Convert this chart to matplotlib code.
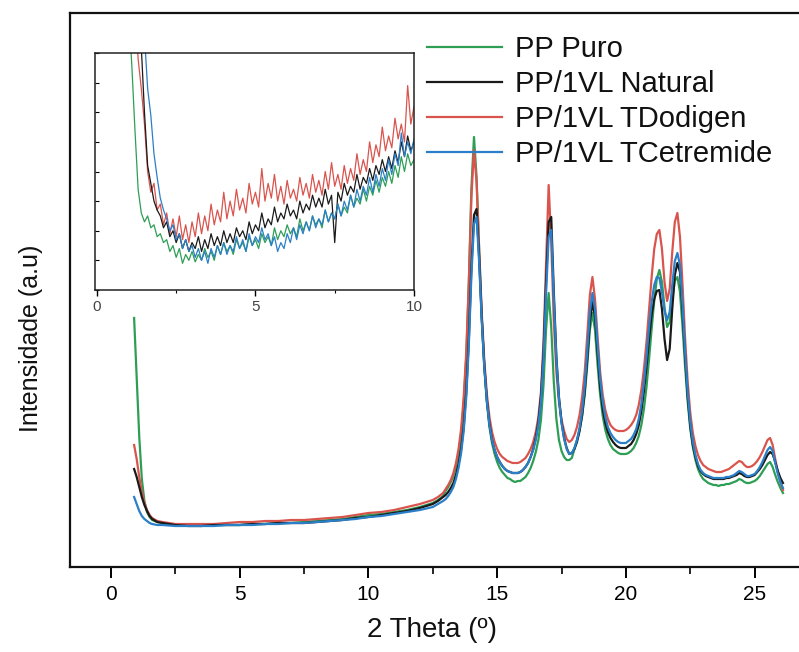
import matplotlib
matplotlib.use('Agg')
import matplotlib.pyplot as plt
from matplotlib import font_manager
from matplotlib.ticker import MultipleLocator

# ---------------- data ----------------
labels = ['PP Puro', 'PP/1VL Natural', 'PP/1VL TDodigen', 'PP/1VL TCetremide']
colors = ['#2e9e55', '#1a1a1a', '#d9544d', '#2a7fc8']

two_theta = [0.9, 1.0, 1.1, 1.2, 1.3, 1.4, 1.5, 1.6, 1.8, 2.0, 2.5, 3.0, 3.5, 4.0, 4.5,
             5.0, 5.5, 6.0, 6.5, 7.0, 7.5, 8.0, 8.5, 9.0, 9.5, 10.0, 10.5, 11.0, 11.5,
             12.0, 12.5, 12.7, 12.9,
             13.0, 13.1, 13.2, 13.3, 13.4, 13.5, 13.6, 13.7, 13.8, 13.9,
             14.0, 14.1, 14.2, 14.3, 14.4, 14.5, 14.6, 14.7, 14.8, 14.9,
             15.0, 15.1, 15.2, 15.3, 15.4, 15.5, 15.6, 15.7, 15.8, 15.9,
             16.0, 16.1, 16.2, 16.3, 16.4, 16.5, 16.6, 16.7, 16.8, 16.9,
             17.0, 17.1, 17.2, 17.3, 17.4, 17.5, 17.6, 17.7, 17.8, 17.9,
             18.0, 18.1, 18.2, 18.3, 18.4, 18.5, 18.6, 18.7, 18.8, 18.9,
             19.0, 19.1, 19.2, 19.3, 19.4, 19.5, 19.6, 19.7, 19.8, 19.9,
             20.0, 20.1, 20.2, 20.3, 20.4, 20.5, 20.6, 20.7, 20.8, 20.9,
             21.0, 21.1, 21.2, 21.3, 21.4, 21.5, 21.6, 21.7, 21.8, 21.9,
             22.0, 22.1, 22.2, 22.3, 22.4, 22.5, 22.6, 22.7, 22.8, 22.9,
             23.0, 23.1, 23.2, 23.3, 23.4, 23.5, 23.6, 23.7, 23.8, 23.9,
             24.0, 24.1, 24.2, 24.3, 24.4, 24.5, 24.6, 24.7, 24.8, 24.9,
             25.0, 25.1, 25.2, 25.3, 25.4, 25.5, 25.6, 25.7, 25.8, 25.9,
             26.0, 26.1]

pp_puro = [249, 190, 130, 88, 66, 55, 50, 47, 45, 44, 42, 42, 41, 42, 42,
           42, 43, 43, 44, 44, 45, 46, 47, 48, 50, 52, 53, 55, 57,
           60, 64, 67, 71,
           76, 80, 85, 91, 100, 113, 132, 163, 210, 285,
           379, 430, 390, 318, 250, 200, 165, 140, 124, 113,
           105, 99, 95, 92, 89, 88, 86, 85, 86, 86,
           88, 90, 94, 99, 106, 115, 127, 147, 182, 238,
           274, 240, 185, 148, 127, 116, 110, 107, 107, 109,
           118, 127, 137, 151, 172, 202, 237, 254, 237, 202,
           172, 151, 137, 128, 122, 118, 116, 114, 113, 113,
           113, 114, 116, 119, 124, 131, 142, 158, 180, 208,
           238, 266, 288, 297, 285, 260, 240, 245, 268, 286,
           290, 275, 240, 200, 165, 138, 120, 107, 98, 92,
           88, 86, 84, 83, 82, 82, 81, 82, 82, 83,
           83, 84, 85, 86, 88, 87, 85, 84, 84, 85,
           86, 88, 91, 95, 99, 103, 105, 100, 92, 85,
           79, 74]

pp_natural = [98, 90, 80, 70, 62, 56, 51, 48, 45, 44, 42, 41, 41, 42, 42,
              42, 43, 43, 44, 44, 44, 45, 46, 47, 49, 50, 52, 54, 56,
              59, 63, 66, 70,
              72, 75, 79, 84, 92, 103, 118, 140, 175, 228,
              300, 352, 358, 310, 250, 202, 167, 143, 127, 117,
              110, 105, 101, 98, 96, 95, 94, 94, 94, 95,
              97, 100, 104, 110, 118, 129, 145, 170, 215, 285,
              345, 350, 275, 210, 170, 145, 129, 119, 113, 114,
              118, 125, 136, 152, 175, 208, 245, 265, 250, 214,
              180, 158, 144, 135, 129, 125, 122, 120, 119, 119,
              119, 121, 123, 127, 133, 142, 156, 176, 200, 228,
              252, 268, 276, 277, 258, 228, 207, 218, 258, 292,
              304, 295, 255, 210, 170, 141, 122, 110, 101, 96,
              93, 91, 90, 89, 88, 88, 88, 88, 88, 89,
              89, 90, 91, 92, 94, 93, 91, 90, 90, 91,
              92, 95, 98, 102, 107, 112, 115, 113, 105, 96,
              89, 84]

pp_dodigen = [122, 108, 90, 75, 64, 57, 52, 49, 46, 45, 43, 43, 43, 43, 44,
              45, 45, 46, 46, 47, 47, 48, 49, 50, 52, 54, 55, 57, 60,
              63, 67, 70, 74,
              78, 82, 87, 94, 104, 118, 138, 170, 215, 285,
              370, 417, 385, 318, 255, 207, 173, 150, 135, 125,
              118, 113, 110, 108, 106, 105, 104, 104, 104, 105,
              107, 109, 113, 118, 125, 135, 150, 175, 225, 305,
              382, 325, 245, 195, 165, 147, 136, 128, 125, 127,
              132, 140, 152, 170, 195, 232, 272, 290, 268, 230,
              195, 172, 157, 148, 142, 139, 137, 136, 136, 136,
              137, 139, 142, 146, 152, 162, 177, 198, 225, 258,
              290, 318, 333, 337, 318, 285, 266, 278, 315, 345,
              354, 330, 282, 228, 185, 154, 134, 121, 112, 106,
              102, 100, 98, 97, 96, 95, 95, 95, 96, 97,
              98, 100, 102, 104, 106, 105, 102, 100, 100, 101,
              103, 106, 110, 115, 121, 127, 129, 122, 108, 95,
              85, 77]

pp_cetremide = [70, 63, 56, 51, 48, 46, 44, 43, 42, 42, 41, 41, 41, 41, 42,
                42, 42, 43, 43, 44, 44, 45, 46, 47, 48, 50, 51, 53, 55,
                57, 60, 63, 66,
                68, 71, 75, 80, 88, 99, 114, 136, 170, 222,
                292, 343, 350, 305, 247, 200, 166, 142, 127, 117,
                110, 105, 101, 98, 96, 95, 94, 94, 94, 95,
                97, 100, 104, 110, 117, 127, 142, 165, 208, 274,
                330, 337, 268, 207, 168, 144, 128, 118, 113, 114,
                119, 127, 139, 156, 181, 216, 255, 274, 258, 222,
                188, 165, 150, 140, 134, 130, 127, 125, 124, 124,
                124, 126, 128, 132, 138, 148, 163, 184, 210, 240,
                265, 282, 290, 289, 275, 256, 247, 255, 282, 306,
                314, 302, 262, 215, 175, 145, 125, 112, 103, 97,
                94, 92, 91, 90, 89, 89, 89, 89, 89, 90,
                90, 91, 92, 94, 96, 95, 93, 91, 91, 92,
                93, 96, 100, 105, 111, 117, 120, 116, 104, 93,
                85, 79]

# inset (low-angle region, enlarged intensity scale)
inset_theta = [1.0, 1.1, 1.2, 1.3, 1.4, 1.5, 1.6, 1.7, 1.8, 1.9,
               2.0, 2.1, 2.2, 2.3, 2.4, 2.5, 2.6, 2.7, 2.8, 2.9,
               3.0, 3.1, 3.2, 3.3, 3.4, 3.5, 3.6, 3.7, 3.8, 3.9,
               4.0, 4.1, 4.2, 4.3, 4.4, 4.5, 4.6, 4.7, 4.8, 4.9,
               5.0, 5.1, 5.2, 5.3, 5.4, 5.5, 5.6, 5.7, 5.8, 5.9,
               6.0, 6.1, 6.2, 6.3, 6.4, 6.5, 6.6, 6.7, 6.8, 6.9,
               7.0, 7.1, 7.2, 7.3, 7.4, 7.5, 7.6, 7.7, 7.8, 7.9,
               8.0, 8.1, 8.2, 8.3, 8.4, 8.5, 8.6, 8.7, 8.8, 8.9,
               9.0, 9.1, 9.2, 9.3, 9.4, 9.5, 9.6, 9.7, 9.8, 9.9,
               10.0]

inset_puro = [9.5, 7.6, 5.4, 3.4, 2.6, 2.3, 2.5, 2.1, 2.2, 1.8,
              1.9, 1.6, 1.7, 1.3, 1.5, 1.1, 1.4, 0.9, 1.2, 1.0,
              1.3, 0.95, 1.2, 1.0, 1.4, 1.1, 1.3, 1.0, 1.5, 1.2,
              1.6, 1.3, 1.5, 1.2, 1.7, 1.4, 1.6, 1.3, 1.8, 1.5,
              1.7, 1.4, 1.9, 1.6, 1.8, 1.5, 2.1, 1.7, 2.0, 1.8,
              2.2, 1.9, 2.1, 1.8, 2.4, 2.0, 2.3, 2.0, 2.5, 2.2,
              2.4, 2.1, 2.7, 2.3, 2.6, 2.4, 2.9, 2.5, 2.8, 2.6,
              3.2, 2.8, 3.1, 2.9, 3.4, 3.0, 3.5, 3.2, 3.7, 3.3,
              3.8, 3.5, 4.0, 3.6, 4.2, 3.8, 4.5, 4.0, 4.6, 4.2,
              4.4]

inset_dodigen = [12, 11, 9.5, 7.8, 6.8, 5.6, 4.0, 3.3, 3.6, 2.7,
                 2.9, 2.2, 2.6, 1.9, 2.4, 1.8, 2.5, 1.7, 2.2, 1.6,
                 2.3, 1.8, 2.6, 1.9, 2.5, 2.0, 2.9, 2.2, 2.7, 2.3,
                 3.3, 2.4, 3.0, 2.5, 3.4, 2.7, 3.1, 2.6, 3.6, 2.9,
                 3.3, 2.8, 4.1, 3.0, 3.6, 3.1, 3.9, 3.0, 3.5, 2.9,
                 3.7, 3.1, 3.4, 3.0, 3.8, 3.2, 3.6, 3.1, 3.9, 3.3,
                 3.7, 3.2, 4.0, 3.4, 4.3, 3.5, 3.9, 3.4, 4.2, 3.6,
                 4.1, 3.7, 4.6, 3.9, 4.4, 4.0, 5.0, 4.3, 4.9, 4.5,
                 5.5, 4.7, 5.2, 4.8, 5.8, 5.1, 5.6, 5.0, 6.9, 5.6,
                 6.2]

inset_natural = [13, 12, 11, 9.5, 8.2, 6.0, 4.2, 3.6, 3.0, 2.7,
                 2.5, 2.1, 2.3, 1.8, 2.0, 1.6, 1.9, 1.4, 1.7, 1.3,
                 1.6, 1.4, 1.8, 1.3, 1.7, 1.4, 1.9, 1.5, 1.8, 1.5,
                 2.0, 1.6, 1.9, 1.6, 2.1, 1.8, 2.0, 1.7, 2.3, 1.9,
                 2.2, 2.0, 2.6, 2.1, 2.4, 2.2, 2.8, 2.3, 2.6, 2.4,
                 2.9, 2.5, 2.7, 2.4, 3.0, 2.6, 2.9, 2.7, 3.2, 2.8,
                 3.1, 2.8, 3.4, 2.9, 3.2, 1.6, 3.3, 3.0, 3.6, 3.2,
                 3.5, 3.3, 3.9, 3.4, 3.8, 3.6, 4.1, 3.7, 4.2, 3.9,
                 4.4, 4.0, 4.5, 4.1, 4.7, 4.3, 5.0, 4.5, 5.2, 4.7,
                 5.0]

inset_cetremide = [14, 13, 12, 11, 10, 8.6, 6.8, 5.9, 4.6, 3.8,
                   3.1, 2.7, 2.4, 2.0, 2.2, 1.7, 1.9, 1.4, 1.7, 1.3,
                   1.5, 1.1, 1.4, 1.0, 1.3, 0.9, 1.4, 1.1, 1.5, 1.2,
                   1.6, 1.2, 1.5, 1.3, 1.8, 1.4, 1.7, 1.3, 1.9, 1.5,
                   1.8, 1.6, 2.1, 1.7, 1.9, 1.5, 1.8, 1.3, 1.6, 1.4,
                   1.9, 1.6, 2.1, 1.7, 2.2, 1.9, 2.3, 2.0, 2.5, 2.1,
                   2.4, 2.2, 2.7, 2.3, 2.6, 2.4, 2.9, 2.5, 3.0, 2.7,
                   3.2, 2.8, 3.4, 3.0, 3.5, 3.2, 3.8, 3.3, 3.9, 3.5,
                   4.1, 3.7, 4.4, 3.9, 4.6, 4.2, 5.3, 4.5, 5.0, 4.6,
                   5.1]

main_series = [pp_puro, pp_natural, pp_dodigen, pp_cetremide]
inset_series = [inset_puro, inset_natural, inset_dodigen, inset_cetremide]

# ---------------- fonts ----------------
avail = {f.name for f in font_manager.fontManager.ttflist}
narrow = 'Liberation Sans Narrow' if 'Liberation Sans Narrow' in avail else 'Liberation Sans'
plt.rcParams['font.family'] = ['Liberation Sans', 'DejaVu Sans']

W, H = 799, 652
fig = plt.figure(figsize=(W / 100, H / 100), dpi=100)

# ---------------- main axes ----------------
ax = fig.add_axes([70 / W, (H - 567) / H, 740 / W, 554 / H])
draw_order = [0, 2, 1, 3]
lines = {}
for i in draw_order:
    ln, = ax.plot(two_theta, main_series[i], color=colors[i], lw=1.6, label=labels[i])
    lines[i] = ln

ax.set_xlim(-1.59, 27.15)
ax.set_ylim(0, 554)
ax.set_yticks([])
ax.xaxis.set_major_locator(MultipleLocator(5))
ax.xaxis.set_minor_locator(MultipleLocator(2.5))
ax.tick_params(axis='x', which='major', direction='out', length=8, width=1.4, pad=5,
               labelsize=15)
ax.tick_params(axis='x', which='minor', direction='out', length=5, width=1.2)
for lab in ax.get_xticklabels():
    lab.set_fontfamily(narrow)
for s in ax.spines.values():
    s.set_linewidth(1.6)
    s.set_color('#111111')

fig.text(432 / W, 1 - 630 / H, '2 Theta (º)', ha='center', va='center',
         fontsize=20, family=narrow, color='#111111')
fig.text(31 / W, 1 - 338 / H, 'Intensidade (a.u)', ha='center', va='center',
         rotation=90, fontsize=18, color='#111111')

leg = ax.legend([lines[i] for i in range(4)], labels, loc='upper left',
                bbox_to_anchor=(427 / W, 1 - 35 / H), bbox_transform=fig.transFigure,
                frameon=False, fontsize=21, handlelength=2.57, handletextpad=0.45,
                labelspacing=0.24, borderpad=0, borderaxespad=0)
for t in leg.get_texts():
    t.set_color('#111111')

# ---------------- inset ----------------
axin = fig.add_axes([95 / W, (H - 290) / H, 319 / W, 237 / H])
for i in [2, 0, 1, 3]:
    axin.plot(inset_theta, inset_series[i], color=colors[i], lw=0.9)
axin.set_xlim(-0.06, 10.0)
axin.set_ylim(0, 8)
axin.xaxis.set_major_locator(MultipleLocator(5))
axin.xaxis.set_minor_locator(MultipleLocator(2.5))
axin.yaxis.set_major_locator(MultipleLocator(1))
axin.tick_params(axis='x', which='major', direction='out', length=4, width=1, pad=3,
                 labelsize=11, labelcolor='#444444')
axin.tick_params(axis='x', which='minor', direction='out', length=2.5, width=0.8)
axin.tick_params(axis='y', which='major', direction='in', length=3, width=0.8,
                 labelleft=False)
for s in axin.spines.values():
    s.set_linewidth(1.1)
    s.set_color('#222222')

fig.savefig('out.png', dpi=100)
